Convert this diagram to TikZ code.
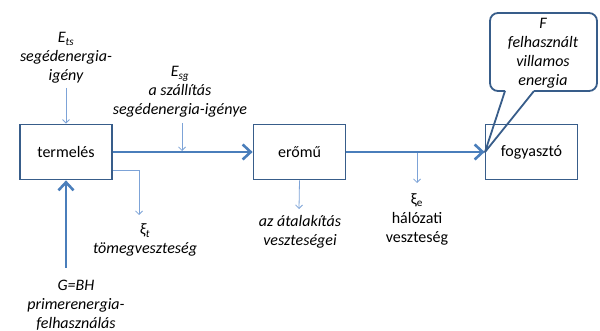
\documentclass[tikz,border=0pt]{standalone}
\usepackage{fontspec}
\setmainfont{Carlito}
\usetikzlibrary{arrows.meta}
\definecolor{boxcol}{RGB}{56,93,138}
\definecolor{thickcol}{RGB}{74,126,187}
\definecolor{thincol}{RGB}{125,163,215}
\begin{document}
\begin{tikzpicture}[x=1pt,y=-1pt,
  box/.style={draw=boxcol, line width=1.8pt, fill=white, minimum width=92pt, minimum height=55pt, inner sep=0pt, font=\fontsize{16}{19}\selectfont},
  lbl/.style={align=center, inner sep=0pt, font=\fontsize{16}{19}\selectfont\itshape},
  lblup/.style={align=center, inner sep=0pt, font=\fontsize{16}{19}\selectfont},
  flow/.style={draw=thickcol, line width=2.6pt, -{Straight Barb[length=8pt,width=15pt]}},
  side/.style={draw=thincol, line width=0.8pt, -{Straight Barb[length=3.5pt,width=7pt]}},
  callout/.style={draw=boxcol, line width=1.8pt, line join=round}]
\useasboundingbox (0,0) rectangle (600,331);

% boxes
\node[box] (term) at (66,152) {termelés};
\node[box] (eromu) at (299.5,152) {erőmű};
\node[box] (fogy) at (531.5,152) {fogyasztó};

% labels
\node[lbl] (ets) at (66,58) {E\textsubscript{ts}\\segédenergia-\\igény};
\node[lbl] (esg) at (180,92) {E\textsubscript{sg}\\a szállítás\\segédenergia-igénye};
\node[lbl] (xit) at (145,240) {ξ\textsubscript{t}\\tömegveszteség};
\node[lbl] (gbh) at (76,305) {G=BH\\primerenergia-\\felhasználás};
\node[lbl] (conv) at (300,232) {az átalakítás\\veszteségei};
\node[lblup] (xie) at (417,219) {ξ\textsubscript{e}\\hálózati\\veszteség};
\node[lbl] (fnode) at (543,53) {F\\felhasznált\\villamos\\energia};

% coordinates
\coordinate (etsend) at (66,88);
\coordinate (esgtop) at (182,123);
\coordinate (esgbot) at (182,151);
\coordinate (tout) at (113,170);
\coordinate (mloss) at (139,215);
\coordinate (closs) at (299,209);
\coordinate (ntop) at (417,152);
\coordinate (nloss) at (417,183);
\coordinate (gstart) at (66,268);

% thin side arrows
\draw[side] (etsend) -- (term.north);
\draw[side] (esgtop) -- (esgbot);
\draw[side] (tout) -| (mloss);
\draw[side] (eromu.south) -- (closs);
\draw[side] (ntop) -- (nloss);

% main flows
\draw[flow] (term.east) -- (eromu.west);
\draw[flow] (eromu.east) -- (fogy.west);
\draw[flow] (gstart) -- (term.south);

% callout
\draw[callout] (505,91) -- (485,152) -- (534,91);
\draw[callout, rounded corners=8pt] (534,91) -- (597,91) -- (597,13) -- (490,13) -- (490,91) -- (505,91);
\end{tikzpicture}
\end{document}
